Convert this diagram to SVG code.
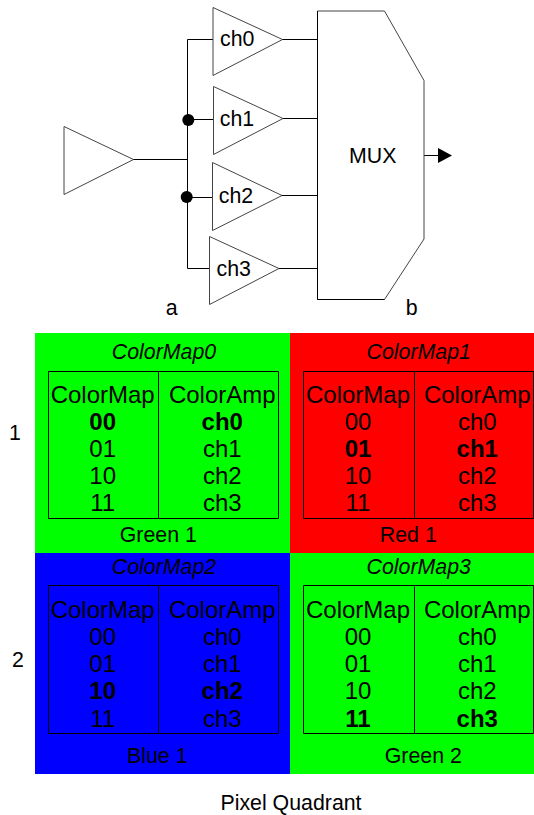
<svg xmlns="http://www.w3.org/2000/svg" width="534" height="815" viewBox="0 0 534 815">
<style>
text{font-family:"Liberation Sans",Arial,sans-serif;font-size:21.33px;fill:#000;text-anchor:middle}
.t{font-size:24px}
.b{font-weight:bold}
.i{font-style:italic}
.tri{fill:#fff;stroke:#444;stroke-width:1}
.wire{fill:none;stroke:#000;stroke-width:1}
.tbl{fill:none;stroke:#000;stroke-width:1}
</style>
<rect width="534" height="815" fill="#fff"/>
<g id="connectors">
<path class="wire" d="M187.500 39.500V268.500M133 159.500H187.500M187.500 39.500H213M187.500 119.500H213M187.500 197.500H212M187.500 268.500H209M282 39.500H317.500M283 118.500H317.500M282 195.500H317.500M279 268.500H317.500M424 155.500H438"/>
<circle cx="188.300" cy="120" r="6"/>
<circle cx="186.700" cy="197" r="6"/>
<polygon points="438,148 452,155.500 438,163"/>
</g>
<g id="input"><polygon class="tri" points="64,126.500 133.500,159.500 64,194.500"/></g>
<g id="ch0"><polygon class="tri" points="213,7.500 282.500,39.500 213,75.500"/><text x="237.300" y="46">ch0</text></g>
<g id="ch1"><polygon class="tri" points="213.500,86.500 283,118.500 213.500,154.500"/><text x="237" y="126">ch1</text></g>
<g id="ch2"><polygon class="tri" points="212.500,162.500 282,195.500 212.500,230.500"/><text x="236" y="203">ch2</text></g>
<g id="ch3"><polygon class="tri" points="209.500,236.500 279,268.500 209.500,304.500"/><text x="233.700" y="276">ch3</text></g>
<g id="mux"><polygon class="tri" points="317.500,11 384.500,11 424,80.500 424,239 384.500,299.500 317.500,299.500"/><path class="wire" d="M384.500 299.500H317.500V11"/><text x="372.700" y="163">MUX</text></g>
<g id="label-a"><text x="171.700" y="315">a</text></g>
<g id="label-b"><text x="411.700" y="315">b</text></g>
<g id="row-1"><text x="15" y="440">1</text></g>
<g id="row-2"><text x="18" y="667">2</text></g>
<g id="q0">
<rect x="35" y="333" width="255" height="220" fill="#0f0"/>
<text class="i" x="164" y="359">ColorMap0</text>
<path class="tbl" d="M48.500 371.500H278.500V518.500H48.500ZM158.500 371.500V518.500"/>
<text class="t" x="102.700" y="403">ColorMap</text><text class="t b" x="102.700" y="430">00</text><text class="t" x="102.700" y="457">01</text><text class="t" x="102.700" y="484">10</text><text class="t" x="102.700" y="511">11</text>
<text class="t" x="222.300" y="403">ColorAmp</text><text class="t b" x="222.300" y="430">ch0</text><text class="t" x="222.300" y="457">ch1</text><text class="t" x="222.300" y="484">ch2</text><text class="t" x="222.300" y="511">ch3</text>
<text x="158.300" y="542">Green 1</text>
</g>
<g id="q1">
<rect x="290" y="333" width="244" height="220" fill="#f00"/>
<text class="i" x="418.700" y="359">ColorMap1</text>
<path class="tbl" d="M303.500 371.500H533.500V518.500H303.500ZM414.500 371.500V518.500"/>
<text class="t" x="358" y="403">ColorMap</text><text class="t" x="358" y="430">00</text><text class="t b" x="358" y="457">01</text><text class="t" x="358" y="484">10</text><text class="t" x="358" y="511">11</text>
<text class="t" x="477.300" y="403">ColorAmp</text><text class="t" x="477.300" y="430">ch0</text><text class="t b" x="477.300" y="457">ch1</text><text class="t" x="477.300" y="484">ch2</text><text class="t" x="477.300" y="511">ch3</text>
<text x="408.300" y="542">Red 1</text>
</g>
<g id="q2">
<rect x="35" y="553" width="255" height="221" fill="#00f"/>
<text class="i" x="164" y="574">ColorMap2</text>
<path class="tbl" d="M48.500 585.500H278.500V733.500H48.500ZM158.500 585.500V733.500"/>
<text class="t" x="102.700" y="618">ColorMap</text><text class="t" x="102.700" y="645">00</text><text class="t" x="102.700" y="672">01</text><text class="t b" x="102.700" y="699">10</text><text class="t" x="102.700" y="727">11</text>
<text class="t" x="222.300" y="618">ColorAmp</text><text class="t" x="222.300" y="645">ch0</text><text class="t" x="222.300" y="672">ch1</text><text class="t b" x="222.300" y="699">ch2</text><text class="t" x="222.300" y="727">ch3</text>
<text x="157.300" y="763">Blue 1</text>
</g>
<g id="q3">
<rect x="290" y="553" width="244" height="221" fill="#0f0"/>
<text class="i" x="418.700" y="574">ColorMap3</text>
<path class="tbl" d="M303.500 585.500H533.500V733.500H303.500ZM414.500 586.500V733.500"/>
<text class="t" x="358" y="618">ColorMap</text><text class="t" x="358" y="645">00</text><text class="t" x="358" y="672">01</text><text class="t" x="358" y="699">10</text><text class="t b" x="358" y="727">11</text>
<text class="t" x="477.300" y="618">ColorAmp</text><text class="t" x="477.300" y="645">ch0</text><text class="t" x="477.300" y="672">ch1</text><text class="t" x="477.300" y="699">ch2</text><text class="t b" x="477.300" y="727">ch3</text>
<text x="423.300" y="763">Green 2</text>
</g>
<g id="caption"><text x="291" y="810">Pixel Quadrant</text></g>
</svg>
